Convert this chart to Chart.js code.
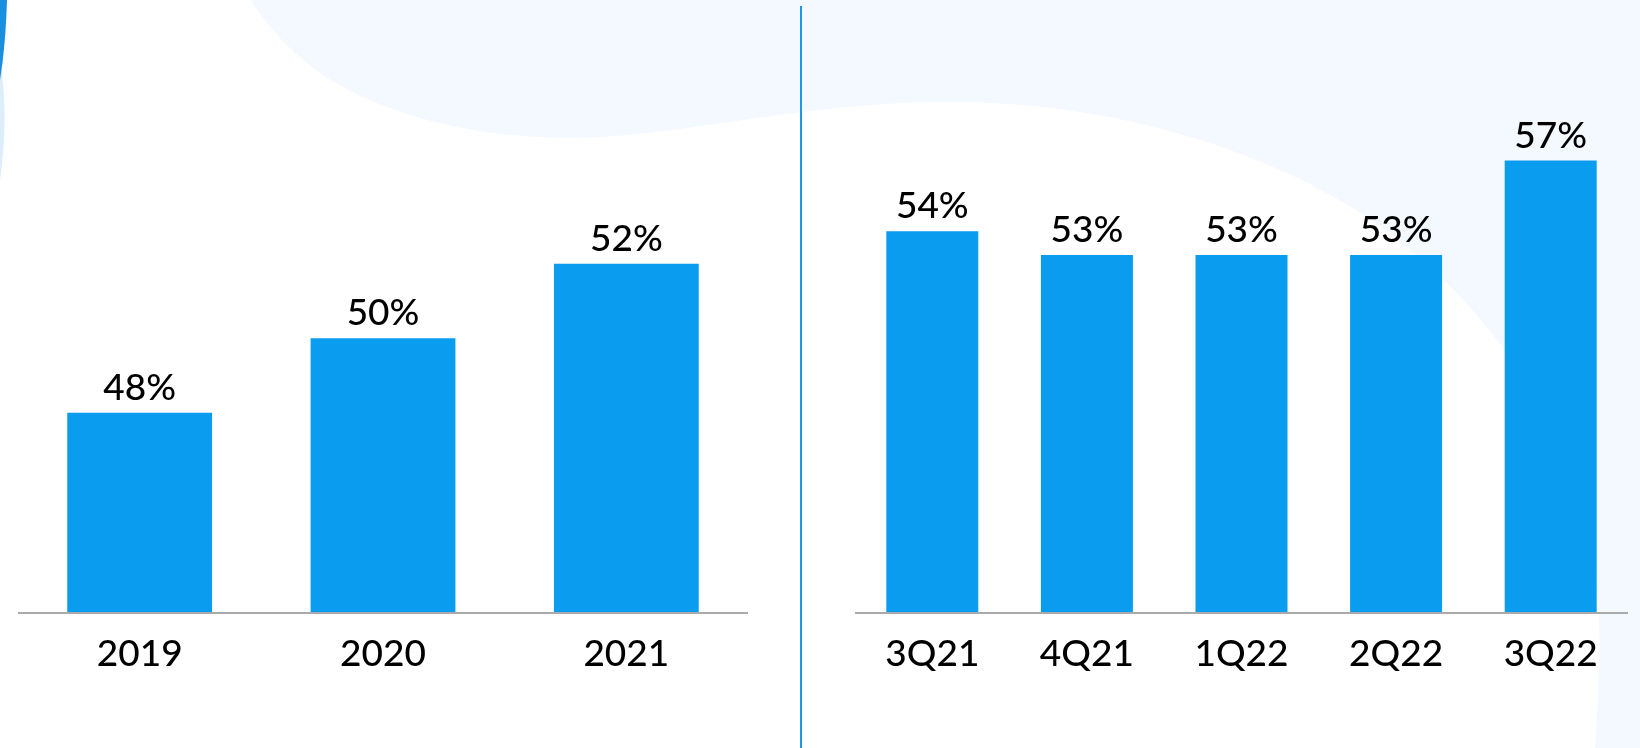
<!DOCTYPE html>
<html>
<head>
<meta charset="utf-8">
<title>Bars</title>
<script src="https://cdn.jsdelivr.net/npm/chart.js@4"></script>
<style>
  html, body { margin: 0; padding: 0; background: #fff; }
  body { width: 1640px; height: 748px; position: relative; overflow: hidden; }
  #bg { position: absolute; left: 0; top: 0; }
  .divider { position: absolute; left: 800px; top: 6px; width: 2px; height: 742px; background: #1e98ea; }
  #yearBox { position: absolute; left: 18px; top: 0; width: 730px; height: 748px; }
  #quarterBox { position: absolute; left: 855px; top: 0; width: 773px; height: 748px; }
</style>
</head>
<body>
<svg id="bg" width="1640" height="748" viewBox="0 0 1640 748">
  <path d="M250,0 C290,60 340,95 420,118 C480,135 540,140 600,137 C700,132 820,100 960,102 C1100,104 1230,140 1330,195 C1430,250 1510,340 1560,440 C1600,520 1605,600 1595,748 L1640,748 L1640,0 Z" fill="#f4f9ff"/>
  <path d="M0,60 C5,90 7,130 0,180 Z" fill="#dcedfb"/>
  <path d="M0,0 L7,0 C6,30 4,55 0,80 Z" fill="#1a8fe0"/>
</svg>
<div class="divider"></div>
<div id="yearBox"><canvas id="yearChart"></canvas></div>
<div id="quarterBox"><canvas id="quarterChart"></canvas></div>
<script>
const yearLabels = ['2019', '2020', '2021'];
const yearValues = [48, 50, 52];
const quarterLabels = ['3Q21', '4Q21', '1Q22', '2Q22', '3Q22'];
const quarterValues = [54, 53, 53, 53, 57];

const barBlue = '#0a9cee';
const family = 'Lato, sans-serif';
const textSize = 37;
const textWeight = 500;

// percentage above each bar
const valueLabels = {
  id: 'valueLabels',
  afterDatasetsDraw(chart) {
    const ctx = chart.ctx;
    const values = chart.data.datasets[0].data;
    ctx.save();
    ctx.font = textWeight + ' ' + textSize + 'px ' + family;
    ctx.fillStyle = '#000';
    ctx.textAlign = 'center';
    ctx.textBaseline = 'alphabetic';
    chart.getDatasetMeta(0).data.forEach((bar, i) => {
      ctx.fillText(values[i] + '%', bar.x, bar.y - 13);
    });
    ctx.restore();
  }
};

function makeBars(id, labels, values, yMin, yMax) {
  return new Chart(document.getElementById(id), {
    type: 'bar',
    data: {
      labels: labels,
      datasets: [{
        data: values,
        backgroundColor: barBlue,
        categoryPercentage: 1,
        barPercentage: 0.595
      }]
    },
    options: {
      responsive: true,
      maintainAspectRatio: false,
      animation: false,
      layout: { padding: 0 },
      plugins: { legend: { display: false }, tooltip: { enabled: false } },
      scales: {
        x: {
          grid: { display: false, drawTicks: false },
          border: { display: true, color: '#aaaaaa', width: 2, z: 1 },
          ticks: { color: '#000', font: { family: family, size: textSize, weight: textWeight }, padding: 19, maxRotation: 0, autoSkip: false },
          afterFit(scale) { scale.height = 135; }
        },
        y: { display: false, min: yMin, max: yMax, bounds: 'data' }
      }
    },
    plugins: [valueLabels]
  });
}

document.fonts.load(textWeight + ' ' + textSize + 'px Lato').then(() => {
  makeBars('yearChart', yearLabels, yearValues, 42.62, 59.08);
  makeBars('quarterChart', quarterLabels, quarterValues, 37.83, 63.8);
});
</script>
</body>
</html>
